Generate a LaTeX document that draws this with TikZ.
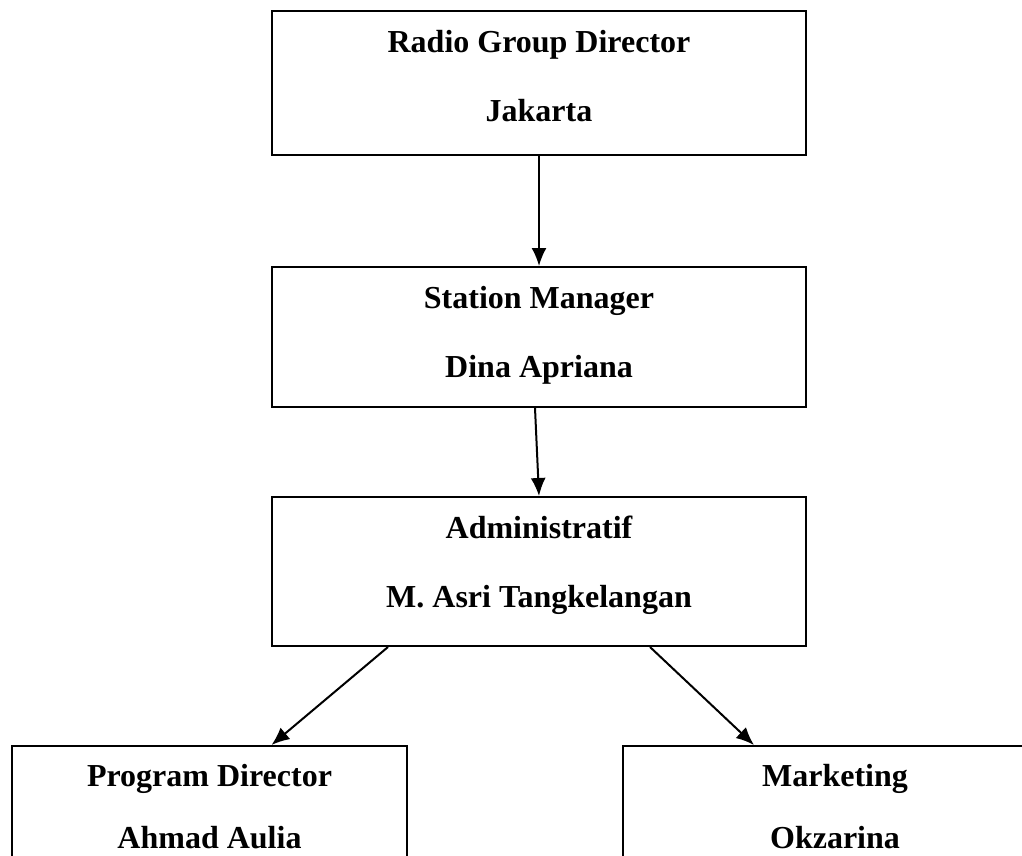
\documentclass[tikz,border=0pt]{standalone}
\usepackage{fontspec}
\setmainfont{Liberation Serif}
\usetikzlibrary{arrows.meta, positioning, calc}

\tikzset{
  orgbox/.style={draw, line width=2pt, inner sep=0pt},
  orgtext/.style={anchor=base, inner sep=0pt, font=\fontsize{32}{38}\selectfont\bfseries},
  link/.style={->, line width=2pt},
}

\begin{document}
\begin{tikzpicture}[x=1pt, y=-1pt, >={Latex[length=18pt,width=15pt]}]
\useasboundingbox (0,0) rectangle (1022,855);
\clip (0,0) rectangle (1022,855);

% the boxes of the chart
\node[orgbox, minimum width=534pt, minimum height=144pt] (radio) at (539,83) {};
\node[orgbox, minimum width=534pt, minimum height=140pt] (station) at (539,337) {};
\node[orgbox, minimum width=534pt, minimum height=149pt] (admin) at (539,571.5) {};
\node[orgbox, minimum width=395pt, minimum height=140pt] (program) at (209.5,816) {};
\node[orgbox, minimum width=424pt, minimum height=140pt] (marketing) at (835,816) {};

% two lines of text in every box
\node[orgtext] (radio-title) at ([yshift=-42pt]radio.north) {Radio Group Director};
\node[orgtext] (radio-name)  at ([yshift=-111pt]radio.north) {Jakarta};
\node[orgtext] (station-title) at ([yshift=-42pt]station.north) {Station Manager};
\node[orgtext] (station-name)  at ([yshift=-111pt]station.north) {Dina Apriana};
\node[orgtext] (admin-title) at ([yshift=-42pt]admin.north) {Administratif};
\node[orgtext] (admin-name)  at ([yshift=-111pt]admin.north) {M. Asri Tangkelangan};
\node[orgtext] (program-title) at ([yshift=-41pt]program.north) {Program Director};
\node[orgtext] (program-name)  at ([yshift=-103pt]program.north) {Ahmad Aulia};
\node[orgtext] (marketing-title) at ([yshift=-41pt]marketing.north) {Marketing};
\node[orgtext] (marketing-name)  at ([yshift=-103pt]marketing.north) {Okzarina};

% connectors
\draw[link] (radio) -- (station);
\draw[link] ([xshift=-4pt]station.south) -- (admin.north);
\draw[link] ([xshift=-151pt]admin.south) -- ([xshift=62pt]program.north);
\draw[link] ([xshift=111pt]admin.south) -- ([xshift=-81pt]marketing.north);

\end{tikzpicture}
\end{document}
